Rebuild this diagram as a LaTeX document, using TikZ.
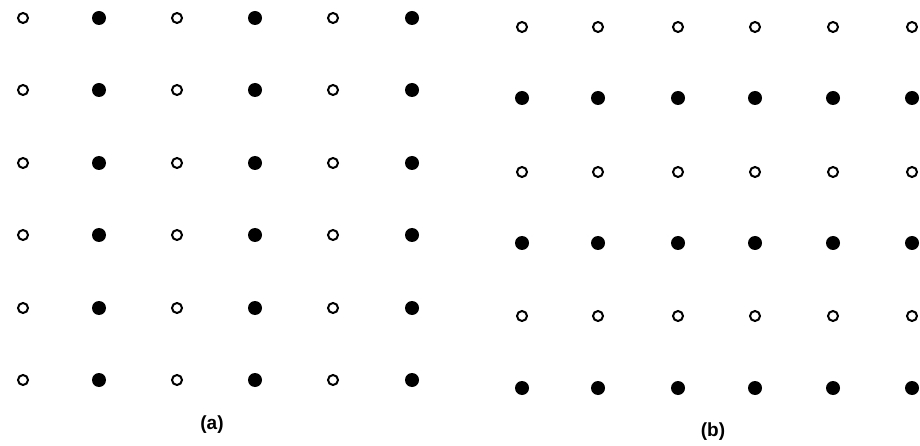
\documentclass[tikz,border=0pt]{standalone}
\usepackage{fontspec}
\setmainfont{Liberation Sans}
\begin{document}
\begin{tikzpicture}[x=1pt,y=-1pt,
  opendot/.style={circle,draw=black,line width=2pt,fill=white,minimum size=10pt,inner sep=0pt},
  fulldot/.style={circle,fill=black,minimum size=14pt,inner sep=0pt},
  caption/.style={font=\fontsize{19}{22}\selectfont\bfseries}]
\useasboundingbox (0,0) rectangle (920,446);
% grid (a): columns alternate open / filled
\foreach \c/\x in {1/23,2/99,3/177,4/255,5/333,6/412}{
  \foreach \r/\y in {1/18,2/90,3/163,4/235,5/308,6/380}{
    \pgfmathparse{int(mod(\c,2))}
    \ifnum\pgfmathresult=1
      \node[opendot] (a\r\c) at (\x,\y) {};
    \else
      \node[fulldot] (a\r\c) at (\x,\y) {};
    \fi
  }
}
% grid (b): rows alternate open / filled
\foreach \c/\x in {1/522,2/598,3/678,4/755,5/833,6/912}{
  \foreach \r/\y in {1/27,2/98,3/172,4/243,5/316,6/388}{
    \pgfmathparse{int(mod(\r,2))}
    \ifnum\pgfmathresult=1
      \node[opendot] (b\r\c) at (\x,\y) {};
    \else
      \node[fulldot] (b\r\c) at (\x,\y) {};
    \fi
  }
}
\node[caption] (capa) at (212,425) {(a)};
\node[caption] (capb) at (713,432) {(b)};
\end{tikzpicture}
\end{document}
